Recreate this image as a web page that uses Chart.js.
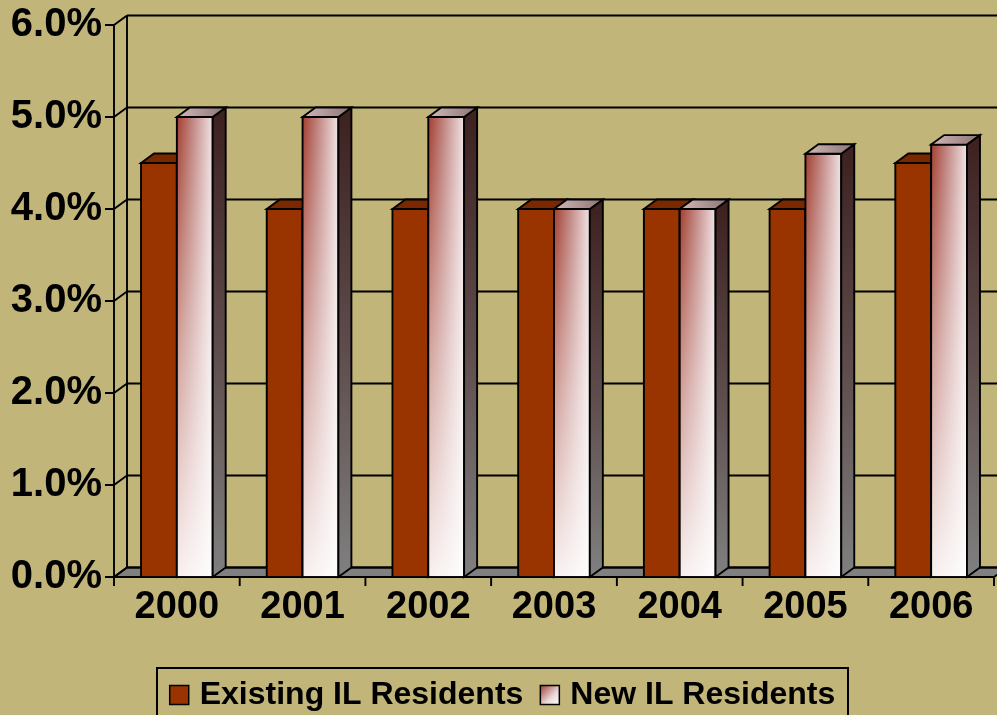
<!DOCTYPE html>
<html>
<head>
<meta charset="utf-8">
<script src="https://cdn.jsdelivr.net/npm/chart.js@4.4.1/dist/chart.umd.min.js"></script>
<style>
  html, body { margin: 0; padding: 0; background: #C1B57A; }
  canvas { display: block; }
</style>
</head>
<body>
<canvas id="chart" width="997" height="715"></canvas>
<script>
// Annual rate by year for the two resident groups (percent)
const years = ['2000', '2001', '2002', '2003', '2004', '2005', '2006'];
const existingResidents = [4.5, 4.0, 4.0, 4.0, 4.0, 4.0, 4.5];
const newResidents = [5.0, 5.0, 5.0, 4.0, 4.0, 4.6, 4.7];
const seriesNames = ['Existing IL Residents', 'New IL Residents'];
const yTickValues = [0, 1, 2, 3, 4, 5, 6];
const yTickLabels = ['0.0%', '1.0%', '2.0%', '3.0%', '4.0%', '5.0%', '6.0%'];

// Drawing style
const FONT = '"Liberation Sans", Arial, Helvetica, sans-serif';
const BG = '#C1B57A';
const LINE = 1.9;
const DEPTH_X = 13;     // pseudo-3D depth offset
const DEPTH_Y = -9.5;

// Per-series face colours for the extruded bars
const faceStyles = [
  { front: '#993300', top: '#7A2800', side: '#551C00', shaded: false },
  { front: '#C89090', top: null, side: null, shaded: true }
];

function polygon(ctx, pts, fill) {
  ctx.beginPath();
  ctx.moveTo(pts[0][0], pts[0][1]);
  for (let i = 1; i < pts.length; i++) ctx.lineTo(pts[i][0], pts[i][1]);
  ctx.closePath();
  ctx.fillStyle = fill;
  ctx.fill();
  ctx.stroke();
}

// Paints one bar as a box: front, right side and top faces
function drawBox(ctx, bar, st) {
  const p = bar.getProps(['x', 'y', 'base', 'width'], true);
  const l = p.x - p.width / 2, r = p.x + p.width / 2;
  const t = Math.min(p.y, p.base), b = Math.max(p.y, p.base);

  // front face
  if (st.shaded) {
    const h = ctx.createLinearGradient(l, 0, r, 0);
    h.addColorStop(0, '#A33E30');
    h.addColorStop(0.45, '#C28884');
    h.addColorStop(1, '#F0E2E3');
    ctx.fillStyle = h;
    ctx.fillRect(l, t, r - l, b - t);
    const v = ctx.createLinearGradient(0, t, 0, b);
    v.addColorStop(0, 'rgba(255,255,255,0)');
    v.addColorStop(0.5, 'rgba(255,255,255,0.5)');
    v.addColorStop(1, 'rgba(255,255,255,0.92)');
    ctx.fillStyle = v;
  } else {
    ctx.fillStyle = st.front;
  }
  ctx.fillRect(l, t, r - l, b - t);
  ctx.strokeRect(l, t, r - l, b - t);

  // right side face
  let sideFill = st.side;
  if (st.shaded) {
    sideFill = ctx.createLinearGradient(0, t, 0, b);
    sideFill.addColorStop(0, '#3E2222');
    sideFill.addColorStop(0.5, '#5E4C4C');
    sideFill.addColorStop(1, '#808080');
  }
  polygon(ctx, [[r, t], [r + DEPTH_X, t + DEPTH_Y], [r + DEPTH_X, b + DEPTH_Y], [r, b]], sideFill);

  // top face
  let topFill = st.top;
  if (st.shaded) {
    topFill = ctx.createLinearGradient(l, 0, r + DEPTH_X, 0);
    topFill.addColorStop(0, '#D2B8B8');
    topFill.addColorStop(1, '#8C7474');
  }
  polygon(ctx, [[l, t], [r, t], [r + DEPTH_X, t + DEPTH_Y], [l + DEPTH_X, t + DEPTH_Y]], topFill);
}

const scene3d = {
  id: 'scene3d',
  beforeDraw(chart) {
    const { ctx, width, height } = chart;
    ctx.save();
    ctx.fillStyle = BG;
    ctx.fillRect(0, 0, width, height);
    ctx.restore();
  },
  beforeDatasetsDraw(chart) {
    const { ctx, chartArea: a, scales } = chart;
    const xs = scales.x, ys = scales.y;
    const L = a.left, R = a.right, T = a.top, B = a.bottom;
    ctx.save();
    ctx.strokeStyle = '#000';
    ctx.lineWidth = LINE;

    // floor
    polygon(ctx, [[L, B], [R, B], [R + DEPTH_X, B + DEPTH_Y], [L + DEPTH_X, B + DEPTH_Y]], '#808080');

    ctx.beginPath();
    yTickValues.forEach(v => {
      const yy = ys.getPixelForValue(v);
      // back-wall gridline
      ctx.moveTo(L + DEPTH_X, yy + DEPTH_Y);
      ctx.lineTo(R + DEPTH_X + 20, yy + DEPTH_Y);
      // side-wall diagonal
      ctx.moveTo(L, yy);
      ctx.lineTo(L + DEPTH_X, yy + DEPTH_Y);
      // tick mark
      ctx.moveTo(L - 9, yy);
      ctx.lineTo(L, yy);
    });
    // front and back edges of the side wall
    ctx.moveTo(L, T);
    ctx.lineTo(L, B + 9);
    ctx.moveTo(L + DEPTH_X, T + DEPTH_Y);
    ctx.lineTo(L + DEPTH_X, B + DEPTH_Y);
    // category ticks
    for (let i = 0; i <= years.length; i++) {
      const xx = xs.getPixelForValue(i - 0.5);
      ctx.moveTo(xx, B);
      ctx.lineTo(xx, B + 9);
    }
    ctx.stroke();
    ctx.restore();
  },
  afterDatasetsDraw(chart) {
    const { ctx } = chart;
    ctx.save();
    ctx.strokeStyle = '#000';
    ctx.lineWidth = LINE;
    ctx.lineJoin = 'miter';
    // left to right, first series before second, so nearer faces overlap correctly
    for (let i = 0; i < years.length; i++) {
      chart.data.datasets.forEach((ds, di) => {
        const meta = chart.getDatasetMeta(di);
        if (meta.data[i]) drawBox(ctx, meta.data[i], faceStyles[di]);
      });
    }
    ctx.restore();
  },
  afterDraw(chart) {
    const { ctx } = chart;
    // legend
    const boxL = 157, boxR = 848, boxT = 668;
    const cy = 694, sw = 19, gapIn = 11, gapOut = 17;
    ctx.save();
    ctx.font = 'bold 32px ' + FONT;
    const widths = seriesNames.map(s => ctx.measureText(s).width);
    const total = widths.reduce((s, w) => s + w, 0) + seriesNames.length * (sw + gapIn) + gapOut * (seriesNames.length - 1);
    let x = (boxL + boxR) / 2 - total / 2;

    ctx.fillStyle = BG;
    ctx.strokeStyle = '#000';
    ctx.lineWidth = 2;
    ctx.fillRect(boxL, boxT, boxR - boxL, 60);
    ctx.strokeRect(boxL, boxT, boxR - boxL, 60);

    ctx.lineWidth = 1.5;
    seriesNames.forEach((name, i) => {
      const sx = x, sy = cy - sw / 2 + 1;
      let fill = faceStyles[i].front;
      if (faceStyles[i].shaded) {
        fill = ctx.createLinearGradient(sx, sy, sx + sw, sy + sw);
        fill.addColorStop(0, '#A03E36');
        fill.addColorStop(0.6, '#E8D8D8');
        fill.addColorStop(1, '#FFFFFF');
      }
      ctx.fillStyle = fill;
      ctx.fillRect(sx, sy, sw, sw);
      ctx.strokeRect(sx, sy, sw, sw);
      x += sw + gapIn;
      ctx.fillStyle = '#000';
      ctx.textAlign = 'left';
      ctx.textBaseline = 'middle';
      ctx.fillText(name, x, cy + 1);
      x += widths[i] + gapOut;
    });
    ctx.restore();
  }
};

new Chart(document.getElementById('chart'), {
  type: 'bar',
  data: {
    labels: years,
    datasets: [
      { label: seriesNames[0], data: existingResidents, backgroundColor: faceStyles[0].front, borderWidth: 0 },
      { label: seriesNames[1], data: newResidents, backgroundColor: faceStyles[1].front, borderWidth: 0 }
    ]
  },
  options: {
    responsive: false,
    animation: false,
    devicePixelRatio: 1,
    layout: { padding: { top: 25, right: 3, left: 0, bottom: 0 } },
    datasets: { bar: { categoryPercentage: 0.57, barPercentage: 1.0 } },
    plugins: { legend: { display: false }, tooltip: { enabled: false } },
    scales: {
      x: {
        grid: { display: false, drawTicks: false },
        border: { display: false },
        ticks: { color: '#000', font: { family: FONT, size: 38, weight: 'bold' }, padding: 8, maxRotation: 0, autoSkip: false },
        afterFit(s) { s.height = 138; s.paddingLeft = 0; s.paddingRight = 0; }
      },
      y: {
        min: 0, max: 6,
        grid: { display: false, drawTicks: false },
        border: { display: false },
        afterBuildTicks(s) { s.ticks = yTickValues.map(v => ({ value: v })); },
        ticks: {
          color: '#000', font: { family: FONT, size: 40, weight: 'bold' }, padding: 12,
          callback: (v, i) => yTickLabels[i]
        },
        afterFit(s) { s.width = 114; s.paddingTop = 0; s.paddingBottom = 0; }
      }
    }
  },
  plugins: [scene3d]
});
</script>
</body>
</html>
